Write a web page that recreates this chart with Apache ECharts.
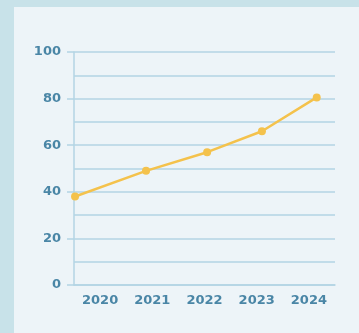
<!DOCTYPE html>
<html><head><meta charset="utf-8">
<script src="https://cdn.jsdelivr.net/npm/echarts@6/dist/echarts.min.js"></script>
<style>
html,body{margin:0;padding:0;width:359px;height:333px;background:#c8e2e9;overflow:hidden}
#c{position:absolute;left:14px;top:7px;width:345px;height:326px;background:#edf4f8}
</style></head><body><div id="c"></div>
<script>
const categories = ['2020','2021','2022','2023','2024'];
const lineX = [0.4, 27.6, 51, 72, 93];
const values = [38, 49, 57, 66, 80.5];

const chart = echarts.init(document.getElementById('c'));
const gridColor = '#b3d4e4';
chart.setOption({
  animation: false,
  grid: {left: 60, right: 24, top: 45, bottom: 48},
  xAxis: [{
    type: 'category', data: categories, boundaryGap: true,
    axisLine: {lineStyle: {color: gridColor, width: 1.5}},
    axisTick: {show: false},
    axisLabel: {color: '#4a86a6', fontSize: 13, fontWeight: 'bold', fontFamily: 'DejaVu Sans', margin: 9}
  }, {
    type: 'value', min: 0, max: 100, show: false
  }],
  yAxis: {
    type: 'value', min: 0, max: 100, interval: 20,
    axisLine: {show: true, lineStyle: {color: gridColor, width: 1.5}},
    axisTick: {show: true, length: 7, lineStyle: {color: gridColor, width: 1.5}},
    minorTick: {show: false, splitNumber: 2},
    splitLine: {lineStyle: {color: gridColor, width: 1.5}},
    minorSplitLine: {show: true, lineStyle: {color: gridColor, width: 1.5}},
    axisLabel: {color: '#4a86a6', fontSize: 13, fontWeight: 'bold', fontFamily: 'DejaVu Sans', margin: 13}
  },
  series: [{
    type: 'line', xAxisIndex: 1,
    data: lineX.map((x, i) => [x, values[i]]),
    symbol: 'circle', symbolSize: 8,
    lineStyle: {color: '#f4c24c', width: 2.5},
    itemStyle: {color: '#f4c24c'}
  }]
});
</script></body></html>
